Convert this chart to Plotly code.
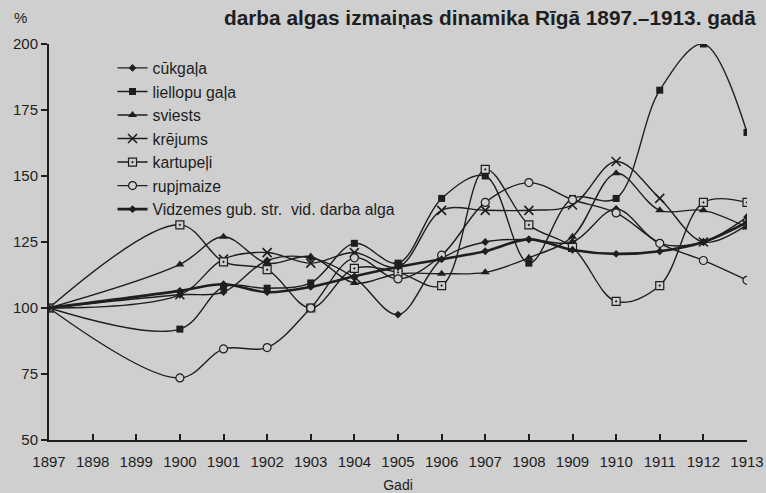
import plotly.graph_objects as go

years = [1897, 1900, 1901, 1902, 1903, 1904, 1905, 1906, 1907, 1908, 1909, 1910, 1911, 1912, 1913]
tick_years = list(range(1897, 1914))
y_ticks = [50, 75, 100, 125, 150, 175, 200]

cukgala = [100, 105, 106, 118, 119, 111.5, 97.5, 118.5, 125, 126, 125, 137.5, 124.5, 125, 134.5]
liellopu = [100, 92, 108, 107.5, 109.5, 124.5, 117, 141.5, 150, 117, 141.5, 141.5, 182.5, 200, 166.5]
sviests = [100, 116.5, 127, 117, 119.5, 109.5, 113, 113, 113.5, 119, 127, 151, 137, 137, 130.5]
krejums = [100, 105, 118.5, 121, 117, 121, 115.5, 137, 137, 137, 139, 155.5, 141.5, 125, 131.5]
kartupeli = [100, 131.5, 117.5, 114.5, 100, 115, 113.5, 108.5, 152.5, 131.5, 123, 102.5, 108.5, 140, 140]
rupjmaize = [100, 73.5, 84.5, 85, 100, 119, 111, 120, 140, 147.5, 141, 136, 124.5, 118, 110.5]
vidzemes = [100, 106.5, 109, 106, 108, 112, 115.5, 118.5, 121.5, 126, 122, 120.5, 121.5, 125, 132.5]

BG = "#cfcfcf"
INK = "#1e1e1e"
FONT = "Liberation Sans, Arial, sans-serif"

series = [
    ("cūkgaļa", cukgala, dict(symbol="diamond", size=6, color=INK), 1.4),
    ("liellopu gaļa", liellopu, dict(symbol="square", size=7, color=INK), 1.4),
    ("sviests", sviests, dict(symbol="triangle-up", size=8, color=INK), 1.4),
    ("krējums", krejums, dict(symbol="x-thin", size=9, color=INK, line=dict(color=INK, width=1.6)), 1.4),
    ("kartupeļi", kartupeli, dict(symbol="square-dot", size=8, color=BG, line=dict(color=INK, width=1.2)), 1.4),
    ("rupjmaize", rupjmaize, dict(symbol="circle", size=8, color=BG, line=dict(color=INK, width=1.2)), 1.4),
    ("Vidzemes gub. str.  vid. darba alga", vidzemes, dict(symbol="diamond", size=6, color=INK), 2.6),
]

fig = go.Figure()
for name, vals, marker, lw in series:
    fig.add_trace(go.Scatter(
        x=years, y=vals, name=name, mode="lines+markers",
        line=dict(color=INK, width=lw, shape="spline", smoothing=1.0),
        marker=marker,
    ))

fig.update_layout(
    width=766, height=493,
    paper_bgcolor=BG, plot_bgcolor=BG,
    margin=dict(l=49, r=19, t=44, b=53, autoexpand=False),
    font=dict(family=FONT, size=16, color=INK),
    showlegend=True,
    legend=dict(x=0.091, y=0.982, xanchor="left", yanchor="top",
                bgcolor="rgba(0,0,0,0)", font=dict(family=FONT, size=15.8, color=INK),
                itemwidth=30, tracegroupgap=0),
    xaxis=dict(range=[1897, 1913], tickmode="array", tickvals=tick_years,
               ticktext=[str(t) for t in tick_years], automargin=False,
               ticks="inside", ticklen=6, tickwidth=1.5, tickcolor=INK,
               ticklabelstandoff=7,
               showline=True, linecolor=INK, linewidth=2, showgrid=False, zeroline=False,
               title=dict(text="Gadi", standoff=11, font=dict(size=14)),
               tickfont=dict(size=15)),
    yaxis=dict(range=[50, 200], tickmode="array", tickvals=y_ticks, automargin=False,
               ticks="outside", ticklen=6, tickwidth=1.5, tickcolor=INK,
               showline=True, linecolor=INK, linewidth=2, showgrid=False, zeroline=False,
               tickfont=dict(size=15)),
    annotations=[
        dict(text="<b>darba algas izmaiņas dinamika Rīgā 1897.–1913. gadā</b>",
             xref="paper", yref="paper", x=(490 - 49) / 698, y=1 + (44 - 17) / 396,
             xanchor="center", yanchor="middle", showarrow=False,
             font=dict(family=FONT, size=20.8, color=INK)),
        dict(text="%", xref="paper", yref="paper", x=(20 - 49) / 698, y=1 + (44 - 18) / 396,
             xanchor="center", yanchor="middle", showarrow=False,
             font=dict(family=FONT, size=15, color=INK)),
    ],
)

fig.write_html("out.html",
               config={"displayModeBar": False},
               post_script="document.body.style.margin='0';document.body.style.background='%s';" % BG)
